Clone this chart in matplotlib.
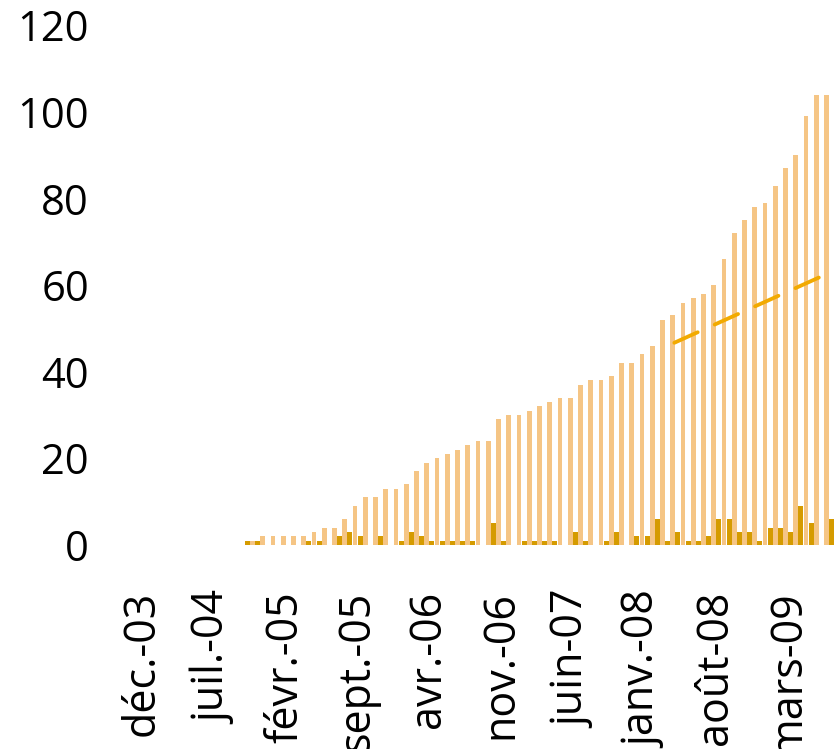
import matplotlib
matplotlib.use("Agg")
import matplotlib.pyplot as plt
import matplotlib.transforms as mtransforms
import numpy as np

# monthly series starting déc.-03 (index 0), one value per month
new_per_month = [0, 0, 0, 0, 0, 0, 0, 0, 0, 0, 0,
                 1, 1, 0, 0, 0, 0, 1, 1, 0, 2, 3, 2, 0, 2, 0, 1, 3, 2,
                 1, 1, 1, 1, 1, 0, 5, 1, 0, 1, 1, 1, 1, 0, 3, 1, 0, 1,
                 3, 0, 2, 2, 6, 1, 3, 1, 1, 2, 6, 6, 3, 3, 1, 4, 4, 3,
                 9, 5, 0, 6]
cumulative = [0, 0, 0, 0, 0, 0, 0, 0, 0, 0, 0,
              1, 2, 2, 2, 2, 2, 3, 4, 4, 6, 9, 11, 11, 13, 13, 14, 17, 19,
              20, 21, 22, 23, 24, 24, 29, 30, 30, 31, 32, 33, 34, 34, 37, 38,
              38, 39, 42, 42, 44, 46, 52, 53, 56, 57, 58, 60, 66, 72, 75, 78,
              79, 83, 87, 90, 99, 104, 104, 110]

# dashed trend line (month index, value)
trend_x = [52.4, 70.0]
trend_y = [46.7, 65.5]

tick_labels = ['déc.-03', 'juil.-04', 'févr.-05', 'sept.-05', 'avr.-06',
               'nov.-06', 'juin-07', 'janv.-08', 'août-08', 'mars-09']
y_ticks = [0, 20, 40, 60, 80, 100, 120]

plt.rcParams['font.family'] = ['Open Sans', 'DejaVu Sans']

fig = plt.figure(figsize=(8.34, 7.49), dpi=100)
# axes runs past the right edge of the picture, as in the cropped original
ax = fig.add_axes([0.1584, 0.2724, 0.8726, 0.6937])

x = np.arange(len(cumulative))
w = 0.5
ax.bar(x - w / 2, new_per_month, width=0.49, color='#D59B00',
       linewidth=0, zorder=2)
ax.bar(x + w / 2, cumulative, width=0.47, color='#F5C585',
       linewidth=0, zorder=2)

ax.plot(trend_x, trend_y, color='#F2AA00', lw=2.75,
        linestyle=(0, (6.7, 4.9)), dash_capstyle='round', zorder=3)

ax.set_xlim(-0.5, 70.5)
ax.set_ylim(0, 120)
ax.set_yticks(y_ticks)
ax.set_yticklabels([str(v) for v in y_ticks])
ax.set_xticks(np.arange(0, 7 * len(tick_labels), 7))
ax.set_xticklabels(tick_labels, rotation=90)

ax.tick_params(axis='both', length=0, colors='black')
ax.tick_params(axis='y', pad=31, labelsize=30)
ax.tick_params(axis='x', pad=33, labelsize=31)

# nudge the rotated month labels a little to the right
shift = mtransforms.ScaledTranslation(5 / 100, 0, fig.dpi_scale_trans)
for lab in ax.get_xticklabels():
    lab.set_transform(lab.get_transform() + shift)

for s in ax.spines.values():
    s.set_visible(False)

fig.savefig('out.png', dpi=100)
